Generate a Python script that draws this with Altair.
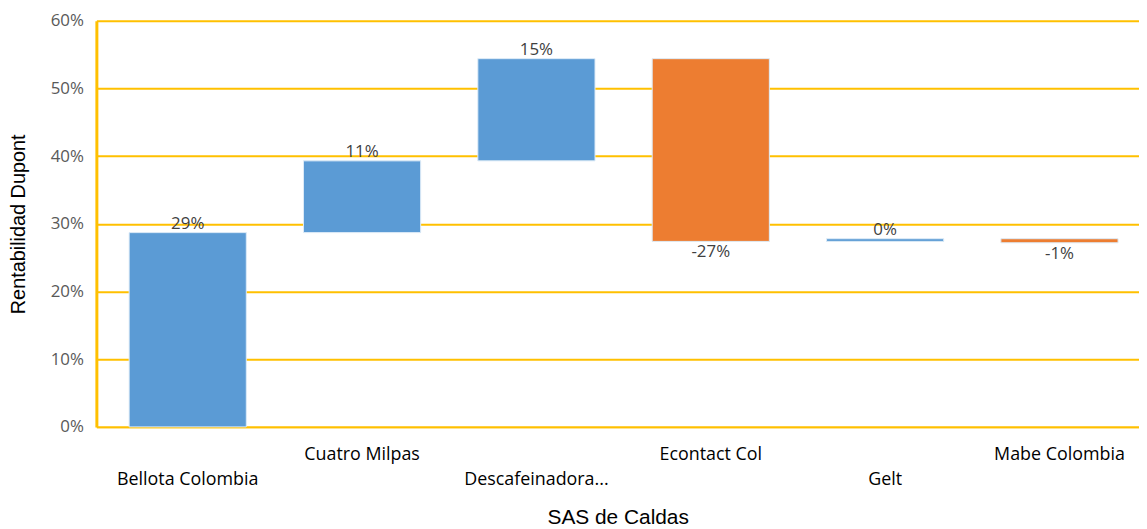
import altair as alt
import pandas as pd

categories = ["Bellota Colombia", "Cuatro Milpas", "Descafeinadora...", "Econtact Col", "Gelt", "Mabe Colombia"]
changes = [0.287, 0.106, 0.151, -0.270, 0.004, -0.006]
lower_row = ["Bellota Colombia", "Descafeinadora...", "Gelt"]

ends = pd.Series(changes).cumsum()
starts = ends - pd.Series(changes)
df = pd.DataFrame({
    "cat": categories,
    "change": changes,
    "start": starts,
    "end": ends,
})
df["kind"] = ["up" if c >= 0 else "down" for c in changes]
df["top"] = df[["start", "end"]].max(axis=1)
df["bottom"] = df[["start", "end"]].min(axis=1)
df["label"] = [f"{round(c * 100):.0f}%" for c in changes]

lower_list = "[" + ",".join("'" + c + "'" for c in lower_row) + "]"

x = alt.X("cat:N", sort=categories, title="SAS de Caldas",
          scale=alt.Scale(paddingInner=0.328, paddingOuter=0.154, align=0.61),
          axis=alt.Axis(labelAngle=0, labelFont="Open Sans", labelFontSize=18, labelColor="#000000",
                        labelExpr=f"indexof({lower_list}, datum.value) >= 0 ? ['', datum.label] : datum.label",
                        labelLineHeight=25, labelBaseline="top", labelPadding=19,
                        ticks=False, domainColor="#FFC000", domainWidth=2,
                        titleFont="Liberation Sans", titleFontSize=21, titleFontWeight="normal",
                        titleColor="#000000", titlePadding=18))

base = alt.Chart(df)

bars = base.mark_bar(stroke="#DDEBF7", strokeWidth=1).encode(
    x=x,
    y=alt.Y("start:Q", scale=alt.Scale(domain=[0, 0.6]), title="Rentabilidad Dupont",
            axis=alt.Axis(format=".0%", values=[0, 0.1, 0.2, 0.3, 0.4, 0.5, 0.6],
                          labelFont="Open Sans", labelFontSize=17, labelColor="#595959",
                          labelPadding=13, ticks=False, domainColor="#FFC000", domainWidth=3,
                          gridColor="#FFC000", gridWidth=2,
                          titleFont="Liberation Sans", titleFontSize=20, titleFontWeight="normal",
                          titleColor="#000000", titlePadding=22)),
    y2="end:Q",
    color=alt.Color("kind:N", scale=alt.Scale(domain=["up", "down"], range=["#5B9BD5", "#ED7D31"]), legend=None),
)

up_labels = base.transform_filter("datum.change >= 0").mark_text(
    baseline="bottom", dy=0, font="Open Sans", fontSize=17, color="#404040"
).encode(x=alt.X("cat:N", sort=categories), y="top:Q", text="label:N")

down_labels = base.transform_filter("datum.change < 0").mark_text(
    baseline="top", dy=3, font="Open Sans", fontSize=17, color="#404040"
).encode(x=alt.X("cat:N", sort=categories), y="bottom:Q", text="label:N")

chart = alt.layer(bars, up_labels, down_labels).properties(
    width=1139, height=521,
    autosize=alt.AutoSizeParams(type="fit", contains="padding"),
    padding={"left": 0, "top": 2, "right": 0, "bottom": 0},
).configure_view(stroke=None).configure_axis(gridOpacity=1)

chart.save("out.html", embed_options={"renderer": "svg", "actions": False})
